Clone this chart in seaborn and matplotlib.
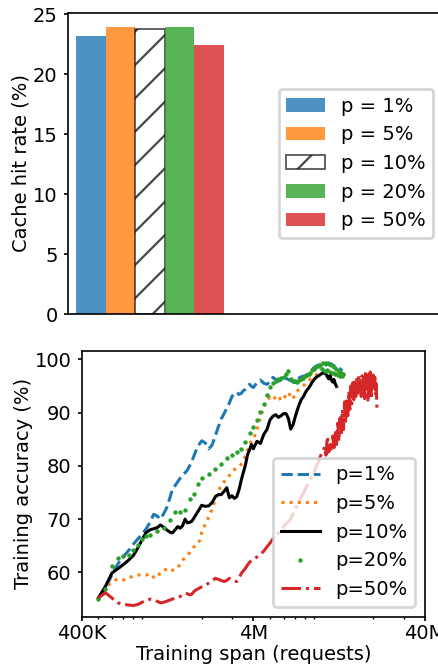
import numpy as np
import matplotlib
matplotlib.use("Agg")
import matplotlib.pyplot as plt
import seaborn as sns
from matplotlib.ticker import FixedLocator, NullFormatter, LogLocator

# ---------------- top panel: cache hit rate ----------------
p_labels = ["p = 1%", "p = 5%", "p = 10%", "p = 20%", "p = 50%"]
hit_rate = [23.2, 23.95, 23.8, 23.95, 22.45]
bar_colors = ["#1f77b4", "#ff7f0e", "white", "#2ca02c", "#d62728"]

# ---------------- bottom panel: training accuracy ----------------
# training span, thousands of requests
span_k = [500, 550, 600, 650, 700, 750, 800, 850, 900, 950,
          1000, 1050, 1100, 1150, 1200, 1250, 1300, 1350, 1400, 1450,
          1500, 1550, 1600, 1650, 1700, 1750, 1800, 1850, 1900, 1950,
          2000, 2100, 2200, 2300, 2400, 2500, 2600, 2700, 2800, 2900,
          3000, 3100, 3200, 3300, 3400, 3500, 3600, 3700, 3800, 3900,
          4000, 4200, 4400, 4600, 4800, 5000, 5200, 5400, 5600, 5800,
          6000, 6200, 6400, 6600, 6800, 7000, 7200, 7400, 7600, 7800,
          8000, 8200, 8400, 8600, 8800, 9000, 9200, 9400, 9600, 9800,
          10000, 10200, 10400, 10600, 10800, 11000, 11200, 11400, 11600, 11800,
          12000, 12200, 12400, 12600, 12800, 13000, 13200, 13400, 13600, 13800,
          14000, 14200, 14400, 14600, 14800, 15000, 15200, 15400, 15600, 15800,
          16000, 16200, 16400, 16600, 16800, 17000, 17200, 17400, 17600, 17800,
          18000, 18200, 18400, 18600, 18800, 19000, 19200, 19400, 19600, 19800,
          20000, 20200, 20400, 20600, 20800, 21000]

span_k_p20 = [500, 550, 600, 650, 700, 750, 800, 850, 900, 950,
              1000, 1100, 1200, 1300, 1400, 1500, 1600, 1700, 1800, 1900,
              2000, 2200, 2400, 2600, 2800, 3000, 3200, 3400, 3600, 3800,
              4000, 4200, 4400, 4600, 4800, 5000, 5200, 5400, 5600, 5800,
              6000, 6200, 6400, 6600, 6800, 7000, 7200, 7400, 7600, 7800,
              8000, 8200, 8400, 8600, 8800, 9000, 9200, 9400, 9600, 9800,
              10000, 10200, 10400, 10600, 10800, 11000, 11200, 11400, 11600, 11800,
              12000, 12200, 12400, 12600, 12800, 13000, 13200, 13400]

acc_p1 = [55.0, 57.0, 59.6, 61.6, 63.0, 64.1, 65.3, 66.3, 67.2, 68.2,
          69.4, 70.9, 70.6, 70.0, 71.0, 72.1, 73.8, 75.6, 76.3, 77.0,
          77.7, 78.3, 78.7, 79.2, 80.0, 80.8, 81.8, 82.8, 83.6, 84.2,
          84.7, 84.3, 83.2, 83.9, 85.6, 87.3, 88.8, 89.8, 90.8, 91.8,
          93.0, 93.6, 93.8, 93.4, 93.6, 94.1, 94.4, 94.9, 95.3, 94.9,
          94.7, 95.6, 96.1, 95.5, 95.3, 95.7, 96.6, 96.2, 95.9, 96.1,
          96.6, 96.4, 96.2, 96.0, 95.8, 95.6, 96.1, 96.5, 96.7, 96.8,
          96.9, 97.1, 97.4, 97.6, 98.0, 98.4, 98.6, 98.8, 98.9, 99.0,
          99.1, 99.2, 99.0, 98.9, 99.1, 99.3, 99.2, 99.1, 98.9, 98.8,
          98.7, 98.6, 98.4, 98.3, 98.2, 98.0, 97.8]

acc_p5 = [55.2, 57.1, 58.3, 58.8, 58.6, 59.0, 59.3, 59.5, 59.6, 59.5,
          59.8, 59.1, 59.0, 60.1, 60.4, 60.6, 60.8, 60.4, 60.6, 60.8,
          61.6, 62.3, 62.8, 63.2, 63.7, 64.3, 64.8, 65.0, 65.5, 66.0,
          67.5, 69.1, 70.4, 71.9, 73.6, 75.3, 76.3, 77.0, 77.6, 78.2,
          78.9, 79.3, 79.6, 79.8, 80.3, 81.0, 81.9, 82.9, 83.9, 84.7,
          85.0, 86.8, 89.0, 91.0, 92.4, 92.8, 92.3, 93.0, 93.2, 92.2,
          92.6, 93.3, 93.8, 93.0, 92.5, 93.5, 94.0, 94.4, 94.7, 95.0,
          95.3, 95.7, 96.0, 96.3, 96.6, 96.9, 97.0, 97.2, 97.3, 97.4,
          97.4, 97.5, 97.6, 97.7, 97.8, 97.6, 97.4, 97.5, 97.6, 97.4,
          97.6, 97.3, 97.4, 97.3, 97.5, 97.4, 97.3, 97.2, 97.0, 96.8,
          96.5, 96.1]

acc_p10 = [55.2, 57.4, 59.9, 60.7, 61.5, 62.3, 63.2, 64.6, 66.2, 67.5,
           68.0, 68.2, 68.4, 68.9, 68.5, 68.0, 67.6, 67.4, 68.0, 68.6,
           68.3, 68.8, 70.0, 69.3, 69.4, 69.6, 70.2, 70.8, 71.4, 72.0,
           72.6, 72.4, 72.5, 73.1, 74.2, 74.6, 74.6, 75.2, 75.9, 74.0,
           74.4, 73.9, 74.2, 75.5, 77.3, 78.8, 80.2, 82.1, 83.0, 84.0,
           83.2, 84.6, 84.2, 85.9, 86.8, 88.6, 89.3, 89.6, 89.1, 89.4,
           89.8, 89.8, 88.9, 86.9, 87.6, 89.1, 90.4, 91.5, 92.4, 92.9,
           93.6, 94.2, 94.6, 95.1, 95.7, 96.1, 96.5, 96.7, 96.9, 97.1,
           97.3, 97.4, 97.5, 97.2, 96.7, 96.3, 97.0, 96.1, 95.7, 96.2,
           95.4, 94.9]

acc_p20 = [55.0, 56.9, 61.3, 62.7, 63.0, 63.3, 64.2, 65.2, 66.3, 66.8,
           67.1, 67.8, 68.3, 69.8, 71.4, 71.4, 71.8, 73.8, 74.7, 76.6,
           77.8, 78.5, 79.4, 80.4, 81.4, 82.0, 82.6, 83.2, 84.4, 86.1,
           87.3, 88.6, 90.1, 91.6, 93.3, 94.8, 95.5, 95.9, 96.2, 96.5,
           96.7, 97.3, 97.8, 96.3, 96.0, 95.9, 95.8, 96.1, 96.3, 96.5,
           96.8, 97.0, 97.3, 97.5, 97.9, 98.2, 98.5, 98.7, 98.8, 99.0,
           98.2, 99.2, 97.8, 99.3, 98.0, 99.1, 97.6, 98.9, 97.5, 98.6,
           97.3, 98.2, 97.0, 97.8, 96.8, 97.5, 96.9, 97.3]

acc_p50 = [55.2, 56.2, 55.2, 54.3, 54.0, 53.9, 53.8, 54.0, 54.4, 54.8,
           55.0, 54.9, 54.6, 54.3, 54.4, 54.6, 54.8, 55.0, 55.2, 55.3,
           55.5, 55.8, 56.1, 56.0, 55.8, 55.9, 56.4, 56.7, 56.9, 57.1,
           57.3, 57.6, 58.0, 58.4, 58.9, 58.7, 58.5, 58.3, 58.5, 58.9,
           58.6, 58.4, 58.3, 58.9, 59.8, 60.3, 60.8, 61.4, 61.9, 62.2,
           62.4, 62.9, 63.4, 64.0, 64.8, 65.5, 66.3, 66.8, 67.4, 68.0,
           68.6, 69.1, 69.5, 70.0, 71.0, 71.8, 72.6, 73.3, 74.1, 74.7,
           75.5, 76.3, 76.9, 77.5, 78.1, 78.7, 79.5, 80.2, 80.9, 81.7,
           82.3, 82.8, 83.6, 82.0, 85.5, 82.6, 84.0, 82.8, 85.6, 83.4,
           86.6, 84.0, 88.0, 84.6, 89.0, 85.6, 90.6, 86.8, 92.0, 88.0,
           92.8, 89.4, 94.0, 90.6, 95.0, 91.6, 95.6, 92.4, 96.2, 93.0,
           96.5, 93.6, 96.8, 94.0, 96.4, 93.0, 96.9, 94.4, 97.1, 92.6,
           97.3, 94.0, 96.8, 92.0, 97.2, 93.6, 97.6, 92.5, 97.4, 94.6,
           97.0, 95.0, 96.6, 93.2, 95.4, 90.6]

line_labels = ["p=1%", "p=5%", "p=10%", "p=20%", "p=50%"]
line_colors = ["#1f77b4", "#ff7f0e", "black", "#2ca02c", "#d62728"]

tick_pos = [4e5, 4e6, 4e7]
tick_text = ["400K", "4M", "40M"]

# ---------------- style ----------------
plt.rcParams.update({
    "font.family": ["DejaVu Sans"],
    "font.size": 7,
    "legend.fontsize": 7,
    "axes.linewidth": 0.6,
    "xtick.major.width": 0.6,
    "ytick.major.width": 0.6,
    "xtick.minor.width": 0.5,
    "xtick.major.size": 1.3,
    "ytick.major.size": 1.3,
    "xtick.minor.size": 0.8,
    "xtick.major.pad": 1.2,
    "ytick.major.pad": 2.4,
    "hatch.linewidth": 0.8,
})

fig = plt.figure(figsize=(4.39 / 2, 6.68 / 2), dpi=200)

# ---- top axes ----
ax1 = fig.add_axes([68 / 439, 1 - 314.3 / 668, (443 - 68) / 439, (314.3 - 12.7) / 668])
sns.barplot(x=p_labels, y=hit_rate, hue=p_labels,
            palette=dict(zip(p_labels, bar_colors)), saturation=1,
            width=1.0, alpha=0.8, linewidth=0, errorbar=None,
            legend=False, ax=ax1)
bars = list(ax1.patches)[:5]
bars[2].set_facecolor("white")
bars[2].set_hatch("//")
bars[2].set_edgecolor("0.1")
bars[2].set_linewidth(0.6)
ax1.set_xlim(-0.77, 11.9)
ax1.set_xticks([])
ax1.set_xlabel("")
ax1.set_ylabel("Cache hit rate (%)")
ax1.yaxis.set_label_coords(-0.1013, 0.5)
ax1.legend(handles=bars, labels=p_labels, loc="center right")

# ---- bottom axes ----
ax2 = fig.add_axes([81.7 / 439, 1 - 616.7 / 668, (425 - 81.7) / 439, (616.7 - 350.7) / 668])
span = np.array(span_k) * 1e3
span20 = np.array(span_k_p20) * 1e3

sns.lineplot(x=span[:len(acc_p1)], y=acc_p1, color=line_colors[0], linestyle="--",
             linewidth=1.1, label=line_labels[0], estimator=None, sort=False, ax=ax2)
sns.lineplot(x=span[:len(acc_p5)], y=acc_p5, color=line_colors[1], linestyle=":",
             linewidth=1.1, label=line_labels[1], estimator=None, sort=False, ax=ax2)
sns.lineplot(x=span[:len(acc_p10)], y=acc_p10, color=line_colors[2], linestyle="-",
             linewidth=1.1, label=line_labels[2], estimator=None, sort=False, ax=ax2)
sns.lineplot(x=span20[:len(acc_p20)], y=acc_p20, color=line_colors[3], linestyle="none",
             marker=".", markersize=3.2, markeredgewidth=0, linewidth=1.1,
             label=line_labels[3], estimator=None, sort=False, ax=ax2)
sns.lineplot(x=span[:len(acc_p50)], y=acc_p50, color=line_colors[4], linestyle="-.",
             linewidth=1.1, label=line_labels[4], estimator=None, sort=False, ax=ax2)

ax2.set_xscale("log")
ax2.set_xlim(4e5, 4e7)
ax2.set_ylim(51.7, 101.6)
ax2.xaxis.set_major_locator(FixedLocator(tick_pos))
ax2.set_xticklabels(tick_text)
ax2.xaxis.set_minor_locator(LogLocator(base=10, subs=(2, 3, 4, 5, 6, 7, 8, 9)))
ax2.xaxis.set_minor_formatter(NullFormatter())
ax2.set_xlabel("Training span (requests)")
ax2.xaxis.set_label_coords(0.5, -0.108)
ax2.set_ylabel("Training accuracy (%)")
ax2.yaxis.set_label_coords(-0.1427, 0.5)
ax2.legend(loc="lower right")

fig.savefig("out.png", dpi=200)
